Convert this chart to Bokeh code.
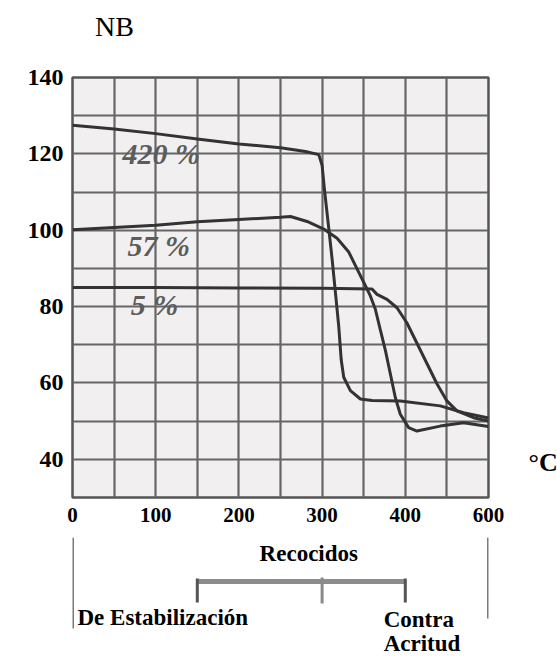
from bokeh.plotting import figure
from bokeh.models import Range1d, FixedTicker
from bokeh.layouts import column, row
from bokeh.embed import file_html
from bokeh.resources import INLINE
from bokeh.core.properties import value

# ---------------- data ----------------
temp_420 = [0, 50, 100, 150, 200, 250, 280, 296, 300, 303, 308, 312, 316, 320, 323, 326,
            334, 346, 360, 394, 442, 470, 500]
nb_420 = [127.5, 126.5, 125.3, 123.9, 122.6, 121.6, 120.6, 119.8, 117.0, 110.3, 100.5, 92.5,
          83.7, 74.8, 66.0, 61.5, 58.0, 55.8, 55.4, 55.3, 54.0, 52.2, 50.8]

temp_57 = [0, 50, 100, 150, 200, 250, 262, 282, 302, 318, 332, 342, 352, 358, 364, 370,
           376, 382, 388, 394, 404, 414, 442, 470, 500]
nb_57 = [100.1, 100.7, 101.3, 102.2, 102.8, 103.4, 103.6, 102.3, 100.3, 97.9, 94.3, 89.9,
         85.5, 82.8, 79.3, 73.9, 68.6, 62.4, 56.2, 51.8, 48.3, 47.4, 48.7, 49.6, 48.6]

temp_5 = [0, 100, 200, 300, 360, 366, 378, 390, 402, 414, 426, 438, 450, 462, 482, 500]
nb_5 = [85.0, 85.0, 84.9, 84.8, 84.6, 83.2, 81.9, 79.7, 75.7, 70.4, 65.1, 59.8, 55.3,
        52.7, 50.9, 50.0]

series_labels = ["420 %", "57 %", "5 %"]
label_temp = [60, 66, 70]
label_nb = [120.0, 96.0, 80.6]

x_ticks = [0, 100, 200, 300, 400, 500]
x_tick_labels = ["0", "100", "200", "300", "400", "600"]
y_ticks = [40, 60, 80, 100, 120, 140]
x_grid = [0, 50, 100, 150, 200, 250, 300, 350, 400, 450, 500]
y_grid = [30, 40, 50, 60, 70, 80, 90, 100, 110, 120, 130, 140]

bracket_temps = [150, 300, 400]
recocido_limits = [0, 500]

SERIF = "Liberation Serif"
TOTAL_W = 557


def bare(fig):
    fig.outline_line_color = None
    fig.background_fill_color = "white"
    fig.border_fill_color = "white"
    fig.xgrid.visible = False
    fig.ygrid.visible = False
    return fig


# ---------------- top strip: y-axis title ----------------
ptop = bare(figure(width=TOTAL_W, height=57, x_range=Range1d(0, TOTAL_W), y_range=Range1d(57, 0),
                   x_axis_location=None, y_axis_location=None,
                   output_backend="svg", toolbar_location=None,
                   min_border_left=0, min_border_right=0, min_border_top=0, min_border_bottom=0))
ptop.text(x=[30], y=[26], text=["NB"], text_font=value(SERIF), text_font_size="28px",
          text_color="black", text_baseline="middle", text_align="left")

# ---------------- main chart ----------------
p = figure(width=508, height=480, x_range=Range1d(0, 500), y_range=Range1d(30, 140),
           output_backend="svg", toolbar_location=None,
           min_border_left=72, min_border_right=20, min_border_top=20, min_border_bottom=40)
p.background_fill_color = "#f1efef"
p.border_fill_color = "white"
p.outline_line_color = "#555555"
p.outline_line_width = 2.5

p.xgrid.ticker = FixedTicker(ticks=x_grid)
p.ygrid.ticker = FixedTicker(ticks=y_grid)
p.grid.grid_line_color = "#666666"
p.grid.grid_line_width = 2.2

p.xaxis.ticker = FixedTicker(ticks=x_ticks)
p.xaxis.major_label_overrides = {t: l for t, l in zip(x_ticks, x_tick_labels)}
p.yaxis.ticker = FixedTicker(ticks=y_ticks)
for ax in (p.xaxis, p.yaxis):
    ax.axis_line_color = None
    ax.major_tick_line_color = None
    ax.minor_tick_line_color = None
    ax.major_tick_out = 0
    ax.major_tick_in = 0
    ax.major_label_text_font = SERIF
    ax.major_label_text_font_style = "bold"
    ax.major_label_text_color = "black"
p.xaxis.major_label_text_font_size = "21px"
p.xaxis.major_label_standoff = 10
p.yaxis.major_label_text_font_size = "24px"
p.yaxis.major_label_standoff = 9

for xs, ys in ((temp_420, nb_420), (temp_57, nb_57), (temp_5, nb_5)):
    p.line(xs, ys, line_color="#333333", line_width=3)

p.text(x=label_temp, y=label_nb, text=series_labels, text_font=value(SERIF),
       text_font_style="bold italic", text_font_size="30px", text_color="#5c5c5c",
       text_baseline="middle", text_align="left")

# ---------------- right strip: x-axis unit ----------------
pright = bare(figure(width=TOTAL_W - 508, height=480, x_range=Range1d(0, TOTAL_W - 508),
                     y_range=Range1d(480, 0), x_axis_location=None, y_axis_location=None,
                     output_backend="svg", toolbar_location=None,
                     min_border_left=0, min_border_right=0, min_border_top=0, min_border_bottom=0))
pright.text(x=[20], y=[440], text=["°C"], text_font=value(SERIF), text_font_size="26px",
            text_font_style="bold", text_color="black", text_baseline="middle", text_align="left")

# ---------------- annealing ranges below ----------------
H2 = 656 - 57 - 480
p2 = bare(figure(width=TOTAL_W, height=H2, x_range=p.x_range, y_range=Range1d(H2, 0),
                 x_axis_location=None, y_axis_location=None,
                 output_backend="svg", toolbar_location=None,
                 min_border_left=72, min_border_right=TOTAL_W - 488,
                 min_border_top=0, min_border_bottom=0))

p2.segment(x0=recocido_limits, y0=[0, 0], x1=recocido_limits, y1=[91, 81],
           line_color="#7a7a7a", line_width=3)
p2.segment(x0=[bracket_temps[0]], y0=[44], x1=[bracket_temps[2]], y1=[44],
           line_color="#8c8c8c", line_width=5)
p2.segment(x0=[bracket_temps[0], bracket_temps[2]], y0=[41, 41],
           x1=[bracket_temps[0], bracket_temps[2]], y1=[65, 65],
           line_color="#555555", line_width=3)
p2.segment(x0=[bracket_temps[1]], y0=[40], x1=[bracket_temps[1]], y1=[66],
           line_color="#8a8a8a", line_width=3)

p2.text(x=[284], y=[16], text=["Recocidos"], text_font=value(SERIF), text_font_style="bold",
        text_font_size="23px", text_color="black", text_baseline="middle", text_align="center")
p2.text(x=[6, 374, 374], y=[80, 82, 106], text=["De Estabilización", "Contra", "Acritud"],
        text_font=value(SERIF), text_font_style="bold", text_font_size="23px",
        text_color="black", text_baseline="middle", text_align="left")

layout = column(ptop, row(p, pright, spacing=0), p2, spacing=0)
open("out.html", "w").write(file_html(layout, INLINE))
